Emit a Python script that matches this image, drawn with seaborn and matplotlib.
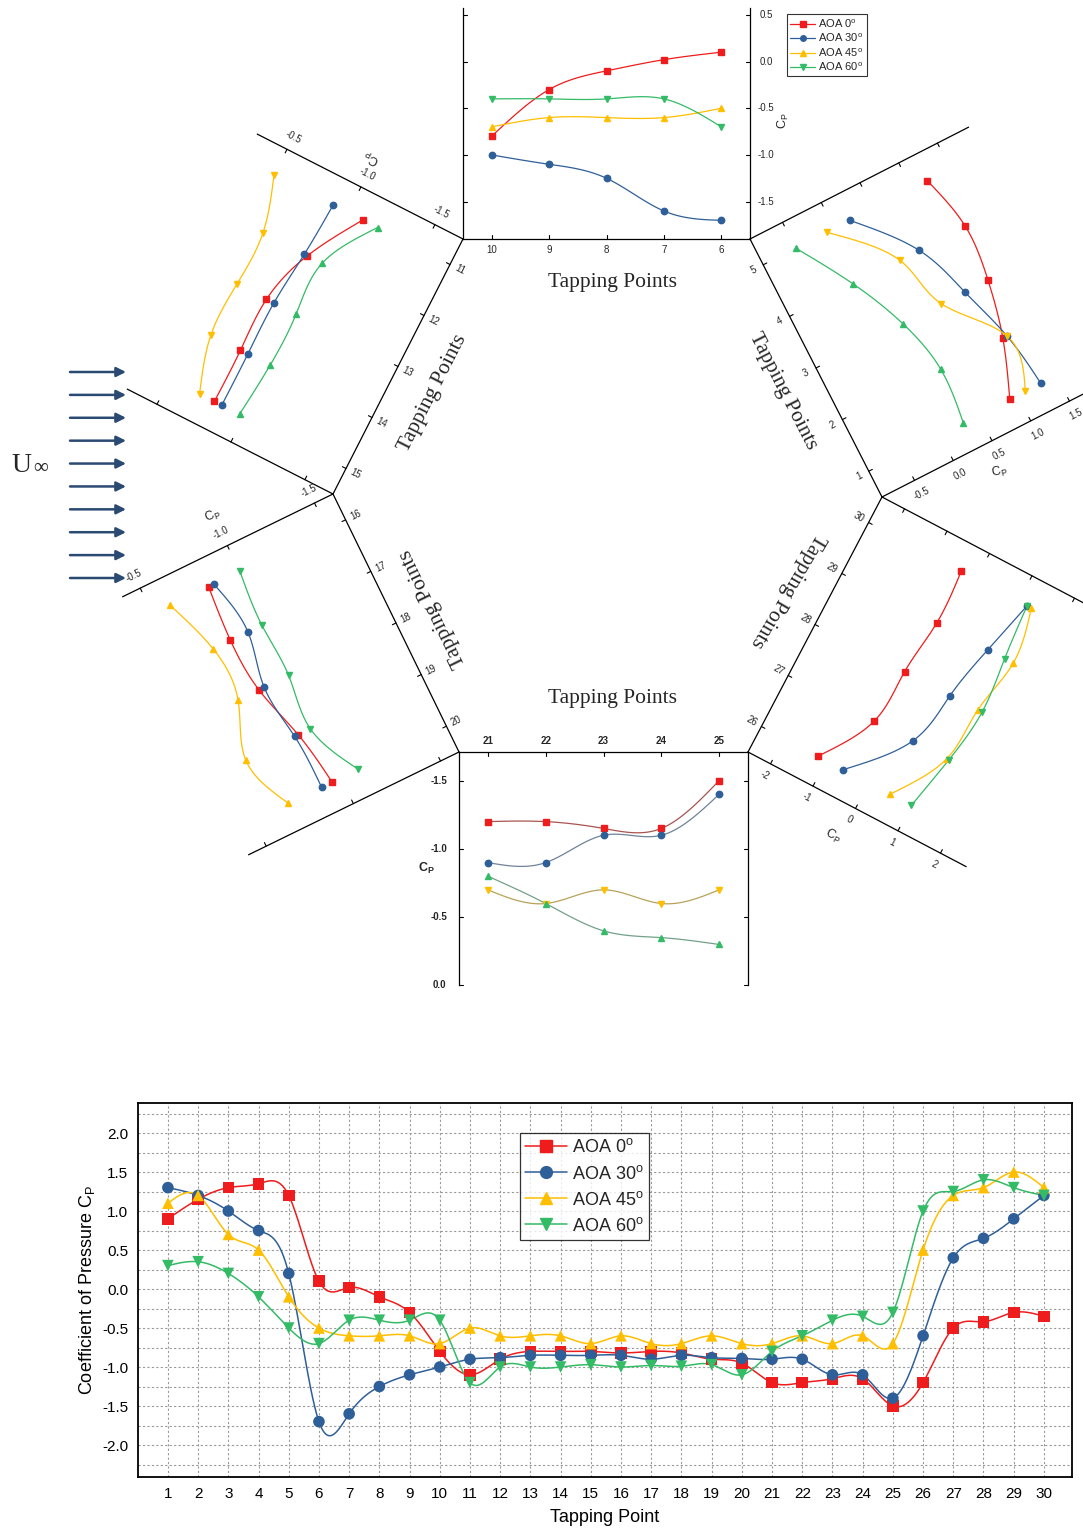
import numpy as np
import pandas as pd
import seaborn as sns
import matplotlib
matplotlib.use("Agg")
import matplotlib.pyplot as plt
from matplotlib.transforms import Affine2D
from matplotlib.lines import Line2D

# ---------------------------------------------------------------- data
taps = list(range(1, 31))
series_names = ["AOA 0", "AOA 30", "AOA 45", "AOA 60"]
cp_aoa0 = [0.90, 1.15, 1.30, 1.35, 1.20, 0.10, 0.02, -0.10, -0.30, -0.80,
           -1.10, -0.90, -0.80, -0.80, -0.80, -0.82, -0.80, -0.82, -0.90, -0.95,
           -1.20, -1.20, -1.15, -1.15, -1.50, -1.20, -0.50, -0.42, -0.30, -0.35]
cp_aoa30 = [1.30, 1.20, 1.00, 0.75, 0.20, -1.70, -1.60, -1.25, -1.10, -1.00,
            -0.90, -0.88, -0.85, -0.85, -0.85, -0.85, -0.90, -0.85, -0.88, -0.89,
            -0.90, -0.90, -1.10, -1.10, -1.40, -0.60, 0.40, 0.65, 0.90, 1.20]
cp_aoa45 = [1.10, 1.20, 0.70, 0.50, -0.10, -0.50, -0.60, -0.60, -0.60, -0.70,
            -0.50, -0.60, -0.60, -0.60, -0.70, -0.60, -0.70, -0.70, -0.60, -0.70,
            -0.70, -0.60, -0.70, -0.60, -0.70, 0.50, 1.20, 1.30, 1.50, 1.30]
cp_aoa60 = [0.30, 0.35, 0.20, -0.10, -0.50, -0.70, -0.40, -0.40, -0.40, -0.40,
            -1.20, -1.00, -1.00, -1.00, -0.97, -1.00, -0.98, -0.99, -0.97, -1.10,
            -0.80, -0.60, -0.40, -0.35, -0.30, 1.00, 1.25, 1.40, 1.30, 1.20]
y_ticks = [-2.0, -1.5, -1.0, -0.5, 0.0, 0.5, 1.0, 1.5, 2.0]

series_values = dict(zip(series_names, [cp_aoa0, cp_aoa30, cp_aoa45, cp_aoa60]))

# ---------------------------------------------------------------- style
sns.set_theme(style="white")
plt.rcParams["font.family"] = ["Liberation Sans", "DejaVu Sans"]
plt.rcParams["mathtext.fontset"] = "custom"
plt.rcParams["mathtext.rm"] = "Liberation Sans"
plt.rcParams["mathtext.it"] = "Liberation Sans:italic"
plt.rcParams["mathtext.bf"] = "Liberation Sans:bold"

colors = {"AOA 0": "#ee1c1c", "AOA 30": "#2f5f98", "AOA 45": "#ffbf00", "AOA 60": "#33bb66"}
markers = {"AOA 0": "s", "AOA 30": "o", "AOA 45": "^", "AOA 60": "v"}
labels = {k: k + "$^\\mathrm{o}$" for k in series_names}


def natural_spline(x, y, n=24):
    """Smooth connecting curve (natural cubic spline) through the points."""
    x = np.asarray(x, float)
    y = np.asarray(y, float)
    k = len(x)
    h = np.diff(x)
    A = np.zeros((k, k))
    r = np.zeros(k)
    A[0, 0] = A[-1, -1] = 1.0
    for i in range(1, k - 1):
        A[i, i - 1] = h[i - 1]
        A[i, i] = 2 * (h[i - 1] + h[i])
        A[i, i + 1] = h[i]
        r[i] = 3 * ((y[i + 1] - y[i]) / h[i] - (y[i] - y[i - 1]) / h[i - 1])
    c = np.linalg.solve(A, r)
    xs, ys = [], []
    for i in range(k - 1):
        b = (y[i + 1] - y[i]) / h[i] - h[i] * (2 * c[i] + c[i + 1]) / 3
        d = (c[i + 1] - c[i]) / (3 * h[i])
        t = np.linspace(0, h[i], n, endpoint=(i == k - 2))
        xs.append(x[i] + t)
        ys.append(y[i] + b * t + c[i] * t ** 2 + d * t ** 3)
    return np.concatenate(xs), np.concatenate(ys)


W, H = 1083, 1535
fig = plt.figure(figsize=(W / 100, H / 100), dpi=100)
fig.patch.set_facecolor("white")

# ---------------------------------------------------------------- hexagon of panels (pixel canvas)
hx = fig.add_axes([0, 0, 1, 1])
hx.set_xlim(0, W)
hx.set_ylim(H, 0)
hx.axis("off")

V_TL, V_TR, V_R = (463, 239), (750, 239), (882, 497)
V_BR, V_BL, V_L = (748, 752), (459, 752), (333, 494)
HEX_C = np.mean(np.array([V_TL, V_TR, V_R, V_BR, V_BL, V_L], float), axis=0)

panels = [
    dict(taps=range(6, 11), origin=V_TR, end=V_TL, t0=5.5, t1=10.5, c0=-1.9, ppc=93.4, cfar=0.575,
         cp_ticks=[-1.5, -1.0, -0.5, 0.0, 0.5], fmt="{:.1f}", tap_rot=0, cp_rot=0, cp_off=16,
         cp_title=(-0.63, -33, 90), title=(7.9, -43, None), m45="^", m60="v"),
    dict(taps=range(1, 6), origin=V_R, end=V_TR, t0=0.5, t1=5.5, c0=-0.92, ppc=87, cfar=1.9,
         cp_ticks=[-0.5, 0.0, 0.5, 1.0, 1.5], fmt="{:.1f}", tap_rot=27, cp_rot=27, cp_off=15,
         cp_title=(0.42, -31, 12), title=(2.9, -40, None), m45="v", m60="^"),
    dict(taps=range(26, 31), origin=V_BR, end=V_R, t0=25.5, t1=30.5, c0=-2.53, ppc=48, cfar=2.6,
         cp_ticks=[-2, -1, 0, 1, 2], fmt="{:.0f}", tap_rot=-30, cp_rot=-27.6, cp_off=13,
         cp_title=(-0.15, -35, -27.6), title=(28.3, -40, -120.5), m45="^", m60="v"),
    dict(taps=range(21, 26), origin=V_BL, end=V_BR, t0=20.5, t1=25.5, c0=-1.71, ppc=136.5, cfar=0.0,
         cp_ticks=[-1.5, -1.0, -0.5, 0.0], fmt="{:.1f}", tap_rot=0, cp_rot=0, cp_off=20,
         cp_title=(-0.86, -33, 0), title=(23.15, -54, 0), m45="v", m60="^", bold=True,
         line_colors={"AOA 0": "#a85450", "AOA 30": "#6f8299", "AOA 45": "#b8a25a", "AOA 60": "#73a08a"}),
    dict(taps=range(16, 21), origin=V_L, end=V_BL, t0=15.5, t1=20.5, c0=-1.606, ppc=194, cfar=-0.40,
         cp_ticks=[-1.5, -1.0, -0.5], fmt="{:.1f}", tap_rot=26, cp_rot=25.7, cp_off=14,
         cp_title=(-1.0, -33, 22), title=(18.05, -40, None), m45="^", m60="v"),
    dict(taps=range(11, 16), origin=V_TL, end=V_L, t0=10.5, t1=15.5, c0=-1.69, ppc=166, cfar=-0.30,
         cp_ticks=[-1.5, -1.0, -0.5], fmt="{:.1f}", tap_rot=-27, cp_rot=-27.6, cp_off=14,
         cp_title=(-0.98, -32, 152.4), title=(13.14, -43, None), m45="v", m60="^"),
]


def draw_panel(p):
    O = np.array(p["origin"], float)
    E = np.array(p["end"], float)
    edge = E - O
    L = np.hypot(*edge)
    u = edge / L
    t0, t1, c0, ppc = p["t0"], p["t1"], p["c0"], p["ppc"]
    ppt = L / (t1 - t0)
    nrm = np.array([-u[1], u[0]])
    if np.dot(nrm, (O + E) / 2 - HEX_C) < 0:
        nrm = -nrm

    def px(t, c, du=0.0, dv=0.0):
        return O + ((t - t0) * ppt + du) * u + ((c - c0) * ppc + dv) * nrm

    M = np.array([[ppt * u[0], ppc * nrm[0], O[0] - t0 * ppt * u[0] - c0 * ppc * nrm[0]],
                  [ppt * u[1], ppc * nrm[1], O[1] - t0 * ppt * u[1] - c0 * ppc * nrm[1]],
                  [0.0, 0.0, 1.0]])
    tr = Affine2D(M) + hx.transData
    bold = "bold" if p.get("bold") else "normal"

    # axis lines: tapping-point edge and the two Cp axes
    cf = p["cfar"]
    for (a, b) in [((t0, c0), (t1, c0)), ((t0, c0), (t0, cf)), ((t1, c0), (t1, cf))]:
        hx.plot([a[0], b[0]], [a[1], b[1]], transform=tr, color="black", lw=0.9,
                solid_capstyle="projecting")

    # tapping point ticks and labels
    for t in p["taps"]:
        a, b = px(t, c0), px(t, c0, dv=4)
        hx.plot([a[0], b[0]], [a[1], b[1]], color="black", lw=0.8)
        q = px(t, c0, dv=-11)
        hx.text(q[0], q[1], str(t), rotation=p["tap_rot"], rotation_mode="anchor",
                ha="center", va="center", fontsize=7, fontweight=bold)

    # Cp ticks and labels
    for c in p["cp_ticks"]:
        a, b = px(t0, c), px(t0, c, du=4)
        hx.plot([a[0], b[0]], [a[1], b[1]], color="black", lw=0.8)
        a, b = px(t1, c), px(t1, c, du=-4)
        hx.plot([a[0], b[0]], [a[1], b[1]], color="black", lw=0.8)
        q = px(t0, c, du=-p["cp_off"])
        hx.text(q[0], q[1], p["fmt"].format(c), rotation=p["cp_rot"], rotation_mode="anchor",
                ha="center", va="center", fontsize=7, fontweight=bold)

    cc, cdu, crot = p["cp_title"]
    q = px(t0, cc, du=cdu)
    hx.text(q[0], q[1], "C$_\\mathrm{P}$" if not p.get("bold") else "$\\mathbf{C_P}$",
            rotation=crot, rotation_mode="anchor", ha="center", va="center", fontsize=9)

    tt, tdv, trot = p["title"]
    if trot is None:
        trot = np.degrees(np.arctan2(u[1], -u[0]))
    q = px(tt, c0, dv=tdv)
    hx.text(q[0], q[1], "Tapping Points", rotation=trot, rotation_mode="anchor",
            ha="center", va="center", fontsize=15.5, family="Liberation Serif")

    # data
    sub = list(p["taps"])
    mk = dict(markers)
    mk["AOA 45"], mk["AOA 60"] = p["m45"], p["m60"]
    lcol = p.get("line_colors", colors)
    for name in series_names:
        vals = [series_values[name][t - 1] for t in sub]
        xs, ys = natural_spline(sub, vals)
        hx.plot(xs, ys, transform=tr, color=lcol[name], lw=0.9, zorder=2)
        hx.plot(sub, vals, transform=tr, ls="none", marker=mk[name], ms=4.6,
                color=colors[name], mec=colors[name], zorder=3)


for p in panels:
    draw_panel(p)

# legend of the upper panel
small_handles = [Line2D([], [], color=colors[k], marker=markers[k], ms=4, lw=0.9) for k in series_names]
leg_small = hx.legend(small_handles, [labels[k] for k in series_names], loc="upper left",
                      bbox_to_anchor=(787 / W, 1 - 14 / H), bbox_transform=fig.transFigure,
                      fontsize=8, frameon=True, fancybox=False, edgecolor="black",
                      borderpad=0.3, labelspacing=0.18, handlelength=2.2, handletextpad=0.3,
                      borderaxespad=0)
leg_small.get_frame().set_linewidth(0.8)

# free-stream arrows
for y in np.linspace(372, 578, 10):
    hx.annotate("", xy=(126, y), xytext=(70, y),
                arrowprops=dict(arrowstyle="-|>", color="#2b4a72", lw=1.8, mutation_scale=14,
                                shrinkA=0, shrinkB=0))
hx.text(11, 472, "U", fontsize=20, family="Liberation Serif", va="baseline", ha="left")
hx.text(33, 473, "\u221e", fontsize=15, family="Liberation Serif", va="baseline", ha="left")

# ---------------------------------------------------------------- main Cp distribution chart
ax = fig.add_axes([138 / W, 1 - 1477 / H, (1072 - 138) / W, (1477 - 1103) / H])

rows = []
for name in series_names:
    for t, v in zip(taps, series_values[name]):
        rows.append(dict(tap=t, cp=v, series=name))
points = pd.DataFrame(rows)

curve_rows = []
for name in series_names:
    xs, ys = natural_spline(taps, series_values[name], n=30)
    curve_rows.append(pd.DataFrame(dict(tap=xs, cp=ys, series=name)))
curves = pd.concat(curve_rows, ignore_index=True)

sns.lineplot(data=curves, x="tap", y="cp", hue="series", palette=colors, estimator=None,
             sort=False, legend=False, lw=1.1, ax=ax, zorder=2)
sns.scatterplot(data=points, x="tap", y="cp", hue="series", style="series", palette=colors,
                markers=markers, s=70, linewidth=0, legend=False, ax=ax, zorder=3)

ax.set_xlim(0.01, 30.93)
ax.set_ylim(-2.41, 2.385)
ax.set_xticks(taps)
ax.set_xticklabels([str(t) for t in taps])
ax.set_yticks(y_ticks)
ax.set_yticklabels([f"{v:.1f}" for v in y_ticks])
ax.set_yticks(np.arange(-2.25, 2.26, 0.25), minor=True)
ax.grid(which="both", axis="y", ls=(0, (2, 2)), color="#9a9a9a", lw=0.8)
ax.grid(which="major", axis="x", ls=(0, (2, 2)), color="#9a9a9a", lw=0.8)
ax.set_axisbelow(True)
ax.tick_params(axis="both", which="both", length=0, labelsize=11, pad=7, colors="black")
for s in ax.spines.values():
    s.set_color("black")
    s.set_linewidth(1.3)
ax.set_xlabel("Tapping Point", fontsize=13, labelpad=6, color="black")
ax.set_ylabel("Coefficient of Pressure C$_\\mathrm{P}$", fontsize=13, labelpad=4, color="black")

handles = [Line2D([], [], color=colors[k], marker=markers[k], ms=8.5, lw=1.1) for k in series_names]
leg = ax.legend(handles, [labels[k] for k in series_names], loc="upper left",
                bbox_to_anchor=(520 / W, 1 - 1133 / H), bbox_transform=fig.transFigure,
                fontsize=13, frameon=True, fancybox=False, edgecolor="black",
                borderpad=0.3, labelspacing=0.45, handlelength=2.3, handletextpad=0.3,
                borderaxespad=0)
leg.get_frame().set_linewidth(0.9)

fig.savefig("out.png", dpi=100, facecolor="white")
